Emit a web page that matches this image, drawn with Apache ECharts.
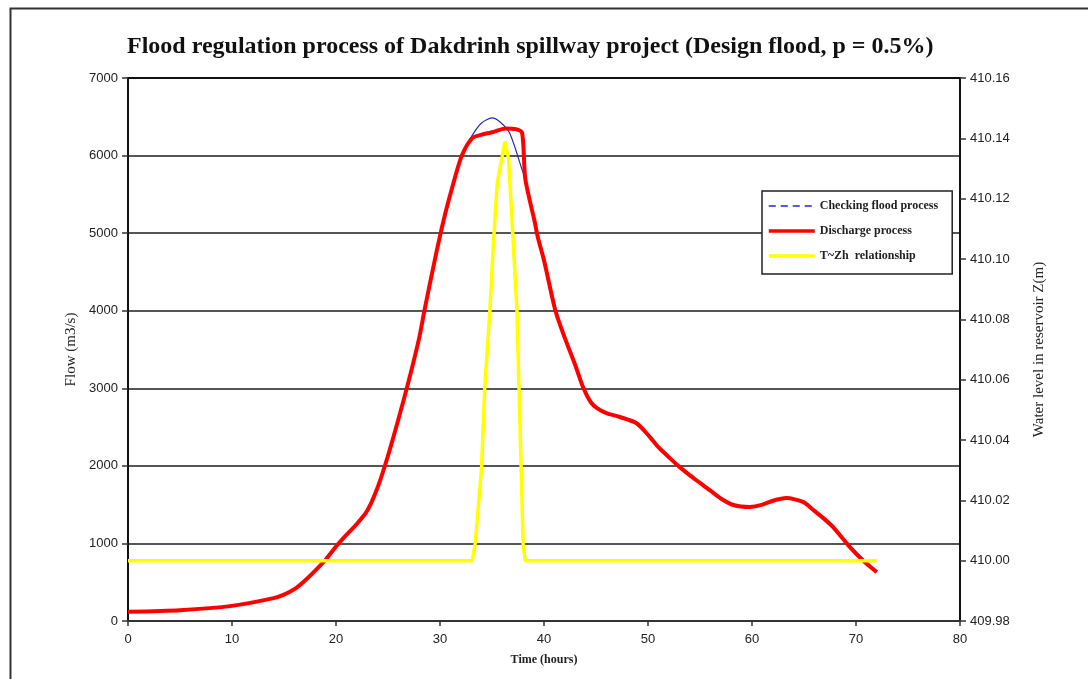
<!DOCTYPE html>
<html>
<head>
<meta charset="utf-8">
<script src="https://cdn.jsdelivr.net/npm/echarts@6/dist/echarts.min.js"></script>
<style>html,body{margin:0;padding:0;background:#fff;}#c{width:1088px;height:679px;}</style>
</head>
<body>
<div id="c"></div>
<script>
// Time (hours) and discharge (m3/s)
var dischargeTime = [0,5,10,14,15,16,17,18,19,20,21,22,23,24,25,26,27,28,28.5,29.7,30.5,31.3,32.1,33.1,34,35,36.3,37.3,37.9,38.2,39.1,39.4,40,41.1,42,43,43.8,44.5,45.1,46,47.3,48.9,50,51,52.1,53,54,55,56,57,58.2,59.8,61,62,63.3,64.9,66,67,67.8,69.4,70,71,72];
var dischargeFlow = [120,140,195,295,340,410,520,650,790,960,1110,1250,1420,1720,2130,2600,3100,3650,4000,4780,5250,5650,6000,6225,6270,6300,6350,6340,6290,5700,5150,4950,4650,4000,3650,3300,3000,2820,2745,2680,2630,2550,2400,2240,2100,1990,1880,1780,1680,1580,1495,1470,1500,1550,1585,1535,1420,1310,1210,955,870,740,630];
// Checking flood process (inflow) - differs from discharge around the peak
var checkTime = [0,5,10,14,15,16,17,18,19,20,21,22,23,24,25,26,27,28,28.5,29.7,30.5,31.3,32.1,33.1,34,35,35.8,36.7,37.9,38.2,39.1,39.4,40,41.1,42,43,43.8,44.5,45.1,46,47.3,48.9,50,51,52.1,53,54,55,56,57,58.2,59.8,61,62,63.3,64.9,66,67,67.8,69.4,70,71,72];
var checkFlow = [120,140,195,295,340,410,520,650,790,960,1110,1250,1420,1720,2130,2600,3100,3650,4000,4780,5250,5650,6000,6260,6420,6485,6430,6290,5815,5700,5150,4950,4650,4000,3650,3300,3000,2820,2745,2680,2630,2550,2400,2240,2100,1990,1880,1780,1680,1580,1495,1470,1500,1550,1585,1535,1420,1310,1210,955,870,740,630];
// T~Zh relationship (water level, m)
var levelTime = [0,33.1,33.4,34.0,34.3,34.8,35.1,35.5,36.25,36.6,37.4,38.0,38.2,72];
var levelZ = [410.0,410.0,410.006,410.031,410.057,410.083,410.103,410.125,410.139,410.133,410.083,410.005,410.0,410.0];

var xTicks = [0,10,20,30,40,50,60,70,80];
var leftTicks = [0,1000,2000,3000,4000,5000,6000,7000];
var rightTicks = [409.98,410.00,410.02,410.04,410.06,410.08,410.10,410.12,410.14,410.16];

function pairs(xs, ys){ return xs.map(function(x,i){ return [x, ys[i]]; }); }

var chart = echarts.init(document.getElementById('c'), null, {renderer:'canvas'});
var serif = '"Liberation Serif","DejaVu Serif",serif';
var sans = '"Liberation Sans",Arial,sans-serif';
var clear = 'rgba(0,0,0,0)';
chart.setOption({
  animation:false,
  backgroundColor:'#fff',
  title:{
    text:'Flood regulation process of Dakdrinh spillway project (Design flood, p = 0.5%)',
    left:122, top:30,
    textStyle:{fontFamily:serif, fontWeight:'bold', fontSize:24, color:'#111'}
  },
  graphic:[{type:'rect', shape:{x:10.5,y:8.5,width:1100,height:700}, style:{fill:null, stroke:'#333', lineWidth:2}, silent:true, z:-1}],
  legend:{
    orient:'vertical', left:762, top:191,
    padding:[9,14,12,5], itemGap:13, itemWidth:46, itemHeight:10,
    backgroundColor:'#fff', borderColor:'#222', borderWidth:1.5,
    itemStyle:{color:clear, borderColor:clear, borderWidth:0},
    textStyle:{fontFamily:serif, fontSize:12, fontWeight:'bold', color:'#222'},
    data:[
      {name:'Checking flood process', lineStyle:{type:[7,5], width:2, color:'#5b5bd6'}},
      {name:'Discharge process', lineStyle:{width:3.5, color:'#ff0000'}},
      {name:'T~Zh  relationship', lineStyle:{width:3.5, color:'#ffff00'}}
    ]
  },
  grid:{left:128, right:128, top:78, bottom:58},
  xAxis:{
    type:'value', min:xTicks[0], max:xTicks[xTicks.length-1], interval:10,
    name:'Time (hours)', nameLocation:'middle', nameGap:33,
    nameTextStyle:{fontFamily:serif, fontSize:12, fontWeight:'bold', color:'#222'},
    axisLine:{lineStyle:{color:'#333', width:2}},
    axisTick:{show:true, length:5, lineStyle:{color:'#333', width:1.5}},
    axisLabel:{fontFamily:sans, fontSize:13, color:'#222', margin:12},
    splitLine:{show:false}
  },
  yAxis:[{
    type:'value', min:leftTicks[0], max:leftTicks[leftTicks.length-1], interval:1000,
    name:'Flow (m3/s)', nameLocation:'middle', nameGap:49,
    nameTextStyle:{fontFamily:serif, fontSize:15, color:'#222'},
    axisLine:{show:true, lineStyle:{color:'#111', width:2}},
    axisTick:{show:true, length:6, lineStyle:{color:'#333', width:1.5}},
    axisLabel:{fontFamily:sans, fontSize:13, color:'#222', margin:10, formatter:function(v){return String(v);}},
    splitLine:{show:true, lineStyle:{color:['#555','#555','#555','#555','#555','#555','#555','#111'], width:2}}
  },{
    type:'value', min:rightTicks[0], max:rightTicks[rightTicks.length-1], interval:0.02,
    name:'Water level in reservoir Z(m)', nameLocation:'middle', nameGap:72, nameRotate:90,
    nameTextStyle:{fontFamily:serif, fontSize:15, color:'#222'},
    position:'right',
    axisLine:{show:true, lineStyle:{color:'#111', width:2}},
    axisTick:{show:true, length:6, lineStyle:{color:'#333', width:1.5}},
    axisLabel:{fontFamily:sans, fontSize:13, color:'#222', margin:10, formatter:function(v){return v.toFixed(2);}},
    splitLine:{show:false}
  }],
  series:[
    {name:'Checking flood process', type:'line', yAxisIndex:0, data:pairs(checkTime, checkFlow), symbol:'none', smooth:0.25, lineStyle:{color:'#2a2aa8', width:1.2}, itemStyle:{color:'#5b5bd6'}, z:2},
    {name:'Discharge process', type:'line', yAxisIndex:0, data:pairs(dischargeTime, dischargeFlow), symbol:'none', smooth:0.25, lineStyle:{color:'#ff0000', width:4}, itemStyle:{color:'#ff0000'}, z:3},
    {name:'T~Zh  relationship', type:'line', yAxisIndex:1, data:pairs(levelTime, levelZ), symbol:'none', smooth:false, lineStyle:{color:'#ffff00', width:3.5}, itemStyle:{color:'#ffff00'}, z:4}
  ]
});
</script>
</body>
</html>
